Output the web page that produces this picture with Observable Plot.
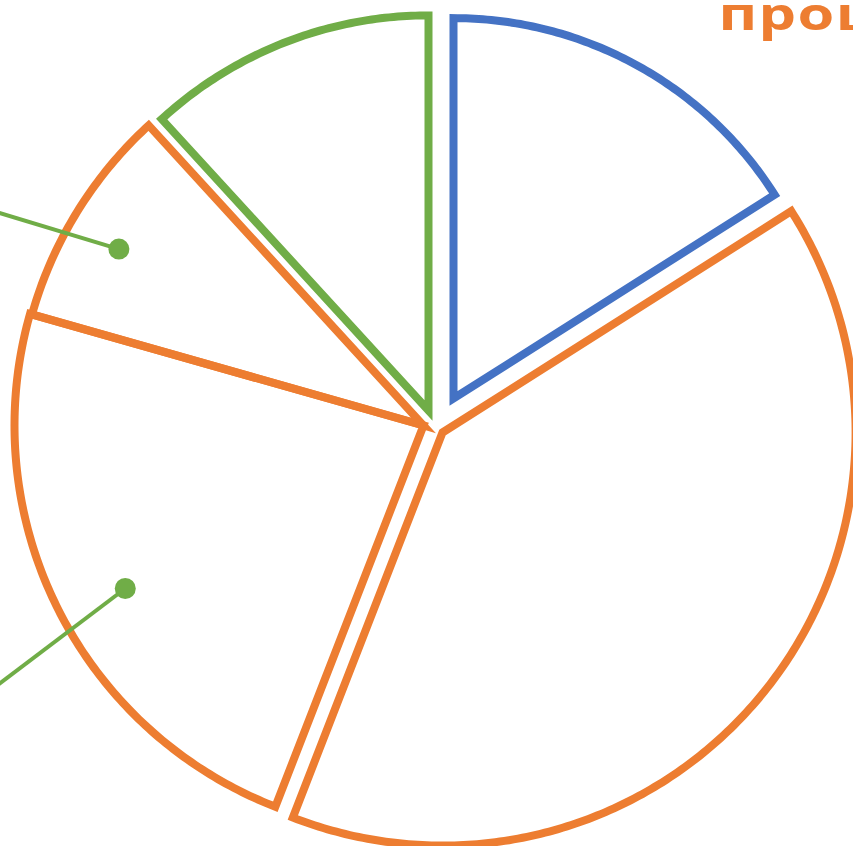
<!DOCTYPE html>
<html>
<head>
<meta charset="utf-8">
<script src="https://cdn.jsdelivr.net/npm/d3@7"></script>
<script src="https://cdn.jsdelivr.net/npm/@observablehq/plot@0.6"></script>
<style>
  html, body { margin: 0; padding: 0; background: #fff; overflow: hidden; }
  #chart svg { display: block; }
</style>
</head>
<body>
<div id="chart"></div>
<script>
// ---- data ----
const categories = ["Сегмент 1", "Сегмент 2", "Сегмент 3", "Сегмент 4", "Сегмент 5"];
const shares = [16.0, 39.9, 23.5, 8.8, 11.8];          // percent of the whole
const radiusShare = [0.93, 1.01, 1.0, 0.995, 0.966];    // relative slice radius
const titleText = "процент";

// ---- style / layout ----
const W = 853, H = 846;
const colors = ["#4472C4", "#ED7D31", "#ED7D31", "#ED7D31", "#70AD47"];
const center = [423, 425];
const baseR = 409;
const explode = [[30, -27], [19, 7], [0, 0], [0, 0], [5, -15]];
const leaderSlices = [3, 2];
const leaderDotR = [0.865, 0.831];
const leaderDotShift = [-1.6, -2.2];   // degrees from slice middle
const leaderEnd = [{angle: 294.2, rf: 1.54}, {angle: 237.1, rf: 1.67}];

const rows = categories.map((c, i) => ({category: c, share: shares[i], rf: radiusShare[i], color: colors[i]}));
const arcs = d3.pie().sort(null).value(d => d.share)(rows);

const outline = [];
arcs.forEach((p, i) => {
  const ox = center[0] + explode[i][0], oy = center[1] + explode[i][1];
  const r = baseR * rows[i].rf;
  outline.push({k: i, color: rows[i].color, x: ox, y: oy});
  const n = Math.max(12, Math.ceil((p.endAngle - p.startAngle) * 90));
  for (let j = 0; j <= n; j++) {
    const a = p.startAngle + (p.endAngle - p.startAngle) * j / n;
    outline.push({k: i, color: rows[i].color, x: ox + r * Math.sin(a), y: oy - r * Math.cos(a)});
  }
});

const leaders = leaderSlices.map((si, j) => {
  const p = arcs[si];
  const mid = (p.startAngle + p.endAngle) / 2 + leaderDotShift[j] * Math.PI / 180;
  const ox = center[0] + explode[si][0], oy = center[1] + explode[si][1];
  const r = baseR * rows[si].rf * leaderDotR[j];
  const ea = leaderEnd[j].angle * Math.PI / 180, er = baseR * leaderEnd[j].rf;
  return {
    x1: ox + r * Math.sin(mid), y1: oy - r * Math.cos(mid),
    x2: center[0] + er * Math.sin(ea), y2: center[1] - er * Math.cos(ea)
  };
});

const chart = Plot.plot({
  width: W,
  height: H,
  margin: 0,
  x: {domain: [0, W], range: [0, W], axis: null},
  y: {domain: [0, H], range: [0, H], axis: null},
  color: {type: "identity"},
  style: {background: "#fff", overflow: "hidden"},
  marks: [
    Plot.line(outline, {
      x: "x", y: "y", z: "k", stroke: "color",
      curve: "linear-closed", strokeWidth: 8,
      strokeLinejoin: "miter", strokeMiterlimit: 10, fill: "none"
    }),
    Plot.link(leaders, {x1: "x1", y1: "y1", x2: "x2", y2: "y2", stroke: "#70AD47", strokeWidth: 4}),
    Plot.dot(leaders, {x: "x1", y: "y1", r: 10.5, fill: "#70AD47", stroke: "none"}),
    Plot.text([titleText], {
      text: d => d, frameAnchor: "top-left", dx: 718, dy: 29,
      textAnchor: "start", lineAnchor: "bottom",
      fontSize: 44, fontWeight: 700, fontFamily: "Open Sans", fill: "#ED7D31"
    })
  ]
});
d3.select(chart).selectAll("text")
  .style("letter-spacing", "1px")
  .attr("transform", function() {
    const t = this.getAttribute("transform");
    return (t ? t + " " : "") + "scale(1.35,1)";
  });
document.getElementById("chart").appendChild(chart);
</script>
</body>
</html>
